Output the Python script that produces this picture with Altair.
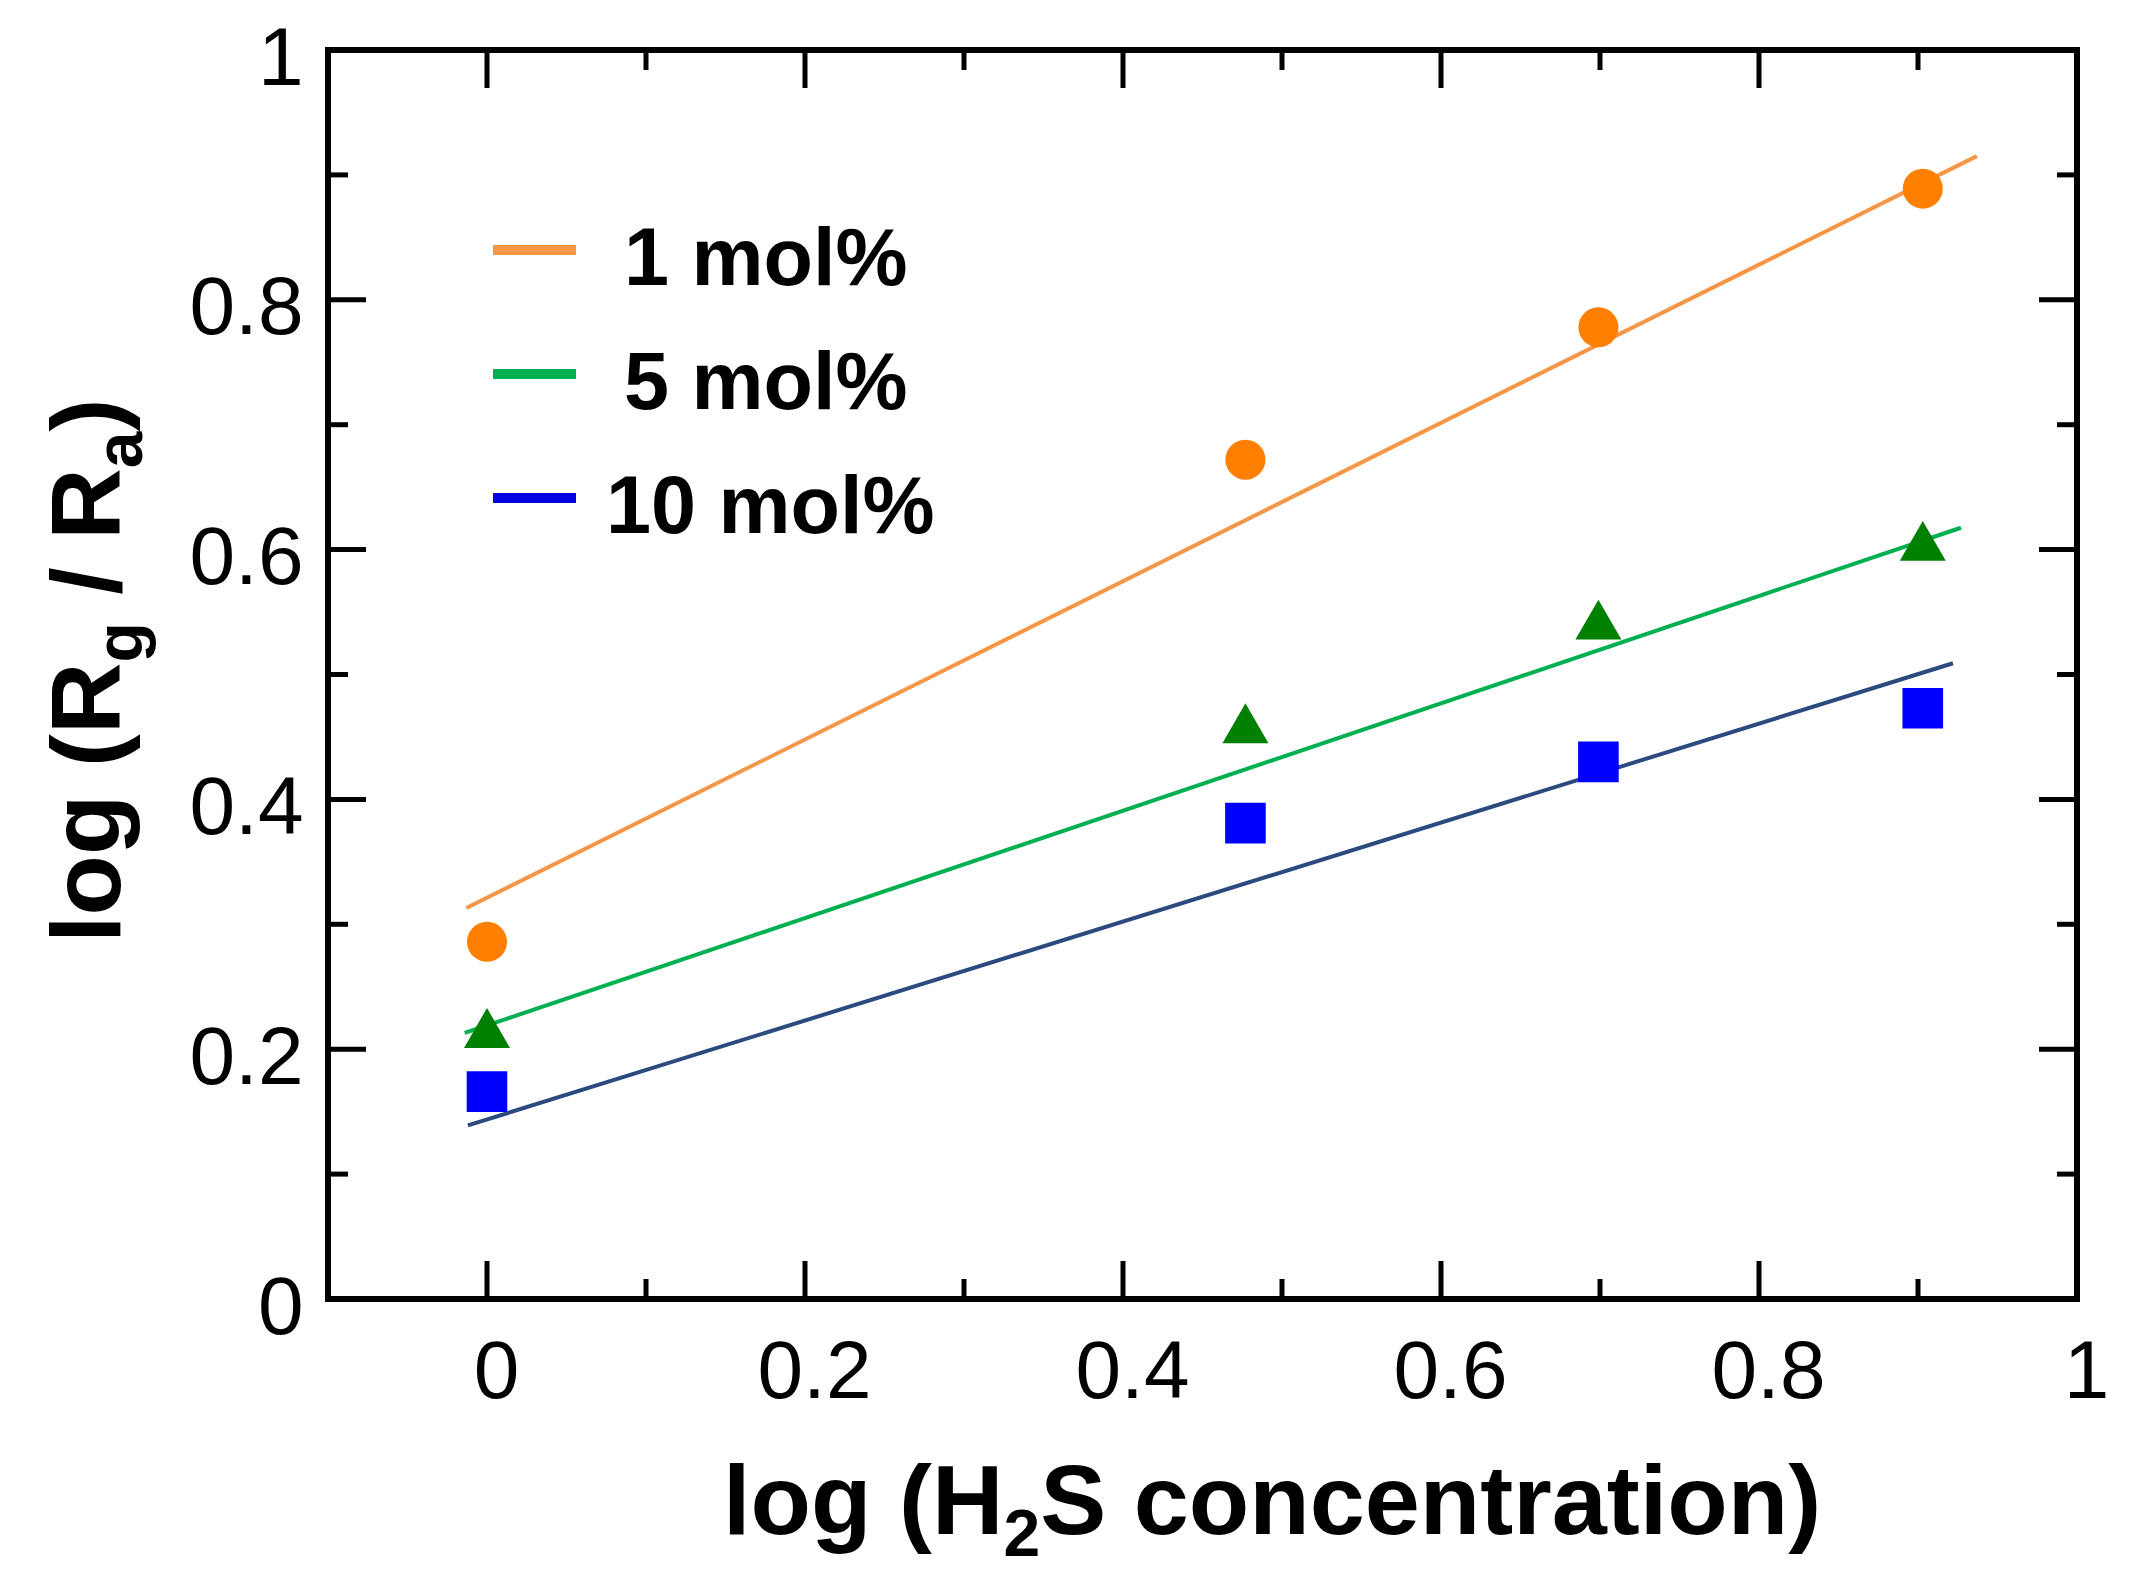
import altair as alt
import pandas as pd

# ---------------- data ----------------
series = ["1 mol%", "5 mol%", "10 mol%"]
log_conc = [0.0, 0.477, 0.699, 0.903]
y_1mol = [0.286, 0.672, 0.778, 0.889]
y_5mol = [0.217, 0.461, 0.544, 0.607]
y_10mol = [0.166, 0.381, 0.430, 0.473]

fit_x_start = [-0.013, -0.014, -0.012]
fit_x_end = [0.937, 0.927, 0.922]
fit_y_start = [0.313, 0.213, 0.139]
fit_y_end = [0.915, 0.6175, 0.509]

x_tick_labels = [0.0, 0.2, 0.4, 0.6, 0.8, 1.0]
y_tick_labels = [0.0, 0.2, 0.4, 0.6, 0.8, 1.0]
x_major = [0.0, 0.2, 0.4, 0.6, 0.8]
x_minor = [0.1, 0.3, 0.5, 0.7, 0.9]
y_major = [0.2, 0.4, 0.6, 0.8]
y_minor = [0.1, 0.3, 0.5, 0.7, 0.9]

# ---------------- styles ----------------
W, H = 1749, 1249
FONT = "Liberation Sans"
marker_colors = ["#FF7F00", "#008000", "#0000FF"]
marker_shapes = ["circle", "triangle-up", "square"]
marker_sizes = [1600, 2116, 1650]
fit_colors = ["#F79646", "#00B050", "#2B4A80"]
legend_colors = ["#F79646", "#00B050", "#0000E0"]
MAJOR, MINOR = 38, 20
TICK_W = 5

xscale = alt.Scale(domain=[-0.1, 1.0], nice=False, zero=False)
yscale = alt.Scale(domain=[0.0, 1.0], nice=False, zero=False)
xaxis = alt.Axis(values=x_tick_labels, format=".1~f", domain=False, ticks=False, tickSize=0,
                 tickOffset=9, grid=False, labelFont=FONT, labelFontSize=82, labelColor="black",
                 labelPadding=33, labelFlush=False, labelOverlap=False, title=None)
yaxis = alt.Axis(values=y_tick_labels, format=".1~f", domain=False, ticks=False, tickSize=0,
                 tickOffset=9, grid=False, labelFont=FONT, labelFontSize=82, labelColor="black",
                 labelPadding=25, labelFlush=False, labelOverlap=False, title=None)


def X(field):
    return alt.X(field, type="quantitative", scale=xscale, axis=xaxis)


def Y(field):
    return alt.Y(field, type="quantitative", scale=yscale, axis=yaxis)


layers = []

# fitted lines
fit_df = pd.DataFrame({"series": series, "x0": fit_x_start, "x1": fit_x_end,
                       "y0": fit_y_start, "y1": fit_y_end})
layers.append(
    alt.Chart(fit_df).mark_rule(strokeWidth=4).encode(
        x=X("x0"), x2="x1", y=Y("y0"), y2="y1",
        color=alt.Color("series:N", scale=alt.Scale(domain=series, range=fit_colors), legend=None),
    )
)

# markers
for name, vals, col, shp, sz in zip(series, [y_1mol, y_5mol, y_10mol],
                                      marker_colors, marker_shapes, marker_sizes):
    df = pd.DataFrame({"x": log_conc, "y": vals, "series": name})
    layers.append(
        alt.Chart(df).mark_point(filled=True, opacity=1, shape=shp, size=sz, color=col,
                                 strokeWidth=0).encode(x=X("x"), y=Y("y"))
    )


# inward ticks on all four sides
def xticks(vals, length):
    df = pd.DataFrame({"v": vals})
    bottom = alt.Chart(df).mark_rule(color="black", strokeWidth=TICK_W).encode(
        x=X("v"), y=alt.value(H), y2=alt.value(H - length))
    top = alt.Chart(df).mark_rule(color="black", strokeWidth=TICK_W).encode(
        x=X("v"), y=alt.value(0), y2=alt.value(length))
    return [bottom, top]


def yticks(vals, length):
    df = pd.DataFrame({"v": vals})
    left = alt.Chart(df).mark_rule(color="black", strokeWidth=TICK_W).encode(
        y=Y("v"), x=alt.value(0), x2=alt.value(length))
    right = alt.Chart(df).mark_rule(color="black", strokeWidth=TICK_W).encode(
        y=Y("v"), x=alt.value(W), x2=alt.value(W - length))
    return [left, right]


layers += xticks(x_major, MAJOR) + xticks(x_minor, MINOR)
layers += yticks(y_major, MAJOR) + yticks(y_minor, MINOR)

# legend (inside plot, top-left)
legend_text_x = [296, 296, 278]
for i, (name, col) in enumerate(zip(series, legend_colors)):
    yc = 200 + 124 * i
    ldf = pd.DataFrame({"label": [name]})
    layers.append(
        alt.Chart(ldf).mark_rule(color=col, strokeWidth=10).encode(
            x=alt.value(165), x2=alt.value(248), y=alt.value(yc))
    )
    layers.append(
        alt.Chart(ldf).mark_text(font=FONT, fontSize=81, fontWeight="bold", color="black",
                                 align="left", baseline="alphabetic").encode(
            x=alt.value(legend_text_x[i]), y=alt.value(yc + 35), text="label:N")
    )

# axis titles with subscripts (Arial-metric widths, Liberation Sans is metric compatible)
ARIAL_BOLD = {' ': 278, '(': 333, ')': 333, '/': 278, '2': 556, 'H': 722, 'S': 667, 'R': 722,
              'a': 556, 'c': 556, 'e': 556, 'g': 611, 'i': 278, 'l': 278, 'n': 611, 'o': 611,
              'r': 389, 't': 333}
MAIN, SUB, SUB_DY = 99, 66, 22


def text_width(s, size):
    return sum(ARIAL_BOLD[c] for c in s) * size / 1000.0


def title_layers(pieces, ax, ay, angle):
    out = []
    dx = 0.0
    for txt, is_sub in pieces:
        size = SUB if is_sub else MAIN
        stripped = txt.lstrip(" ")
        lead = text_width(txt[: len(txt) - len(stripped)], size)
        df = pd.DataFrame({"t": [stripped]})
        kw = dict(font=FONT, fontSize=size, fontWeight="bold", color="black",
                  align="left", baseline="alphabetic", dx=dx + lead,
                  dy=SUB_DY if is_sub else 0)
        if angle:
            kw["angle"] = angle
        out.append(alt.Chart(df).mark_text(**kw).encode(
            x=alt.value(ax), y=alt.value(ay), text="t:N"))
        dx += text_width(txt, size)
    return out


layers += title_layers([("log (H", False), ("2", True), ("S concentration)", False)],
                       395, 1484, 0)
layers += title_layers([("log (R", False), ("g", True), (" / R", False), ("a", True), (")", False)],
                       -208, 893, 270)

chart = alt.layer(*layers).properties(
    width=W, height=H,
    autosize=alt.AutoSizeParams(type="none"),
    padding={"left": 320, "top": 42, "right": 47, "bottom": 284},
).configure(background="white").configure_view(stroke="black", strokeWidth=6)

chart.save("out.html", embed_options={"renderer": "svg", "actions": False})
